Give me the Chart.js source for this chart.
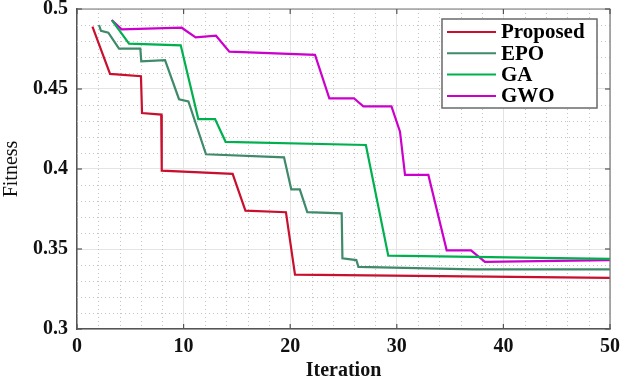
<!DOCTYPE html>
<html>
<head>
<meta charset="utf-8">
<script src="https://cdn.jsdelivr.net/npm/chart.js@4"></script>
<style>
  html, body { margin: 0; padding: 0; background: #fff; }
  canvas { display: block; }
</style>
</head>
<body>
<canvas id="fitness-chart" width="624" height="378"></canvas>
<script>
// valores (iteração, fitness)
const proposedX = [1.45, 3.1, 6.0, 6.1, 7.9, 7.95, 14.6, 15.8, 19.6, 20.45, 50];
const proposedY = [0.489, 0.4594, 0.458, 0.435, 0.434, 0.399, 0.397, 0.374, 0.373, 0.334, 0.332];

const epoX = [2.06, 2.25, 2.94, 3.94, 5.94, 6.03, 8.26, 9.57, 10.45, 12.1, 19.42, 20.1, 20.9, 21.6, 24.83, 24.9, 26.2, 26.4, 37.2, 50];
const epoY = [0.49, 0.4864, 0.4852, 0.4752, 0.4752, 0.4673, 0.468, 0.4436, 0.4423, 0.4092, 0.4073, 0.3873, 0.3873, 0.373, 0.3723, 0.3442, 0.3431, 0.3388, 0.3373, 0.3373];

const gaX = [3.3, 4.88, 9.73, 11.38, 12.95, 13.94, 27.1, 29.2, 50];
const gaY = [0.4927, 0.4783, 0.4773, 0.4312, 0.4312, 0.417, 0.415, 0.3458, 0.3438];

const gwoX = [3.25, 4.19, 9.82, 11.13, 13.04, 14.29, 22.33, 23.67, 25.98, 26.86, 29.5, 30.3, 30.77, 32.96, 34.68, 36.96, 38.27, 50];
const gwoY = [0.4931, 0.4873, 0.4883, 0.4823, 0.4833, 0.4733, 0.4713, 0.4442, 0.4442, 0.4392, 0.4392, 0.4233, 0.3963, 0.3963, 0.3492, 0.3492, 0.342, 0.3431];

const seriesNames = ["Proposed", "EPO", "GA", "GWO"];
const xTicks = [0, 10, 20, 30, 40, 50];
const yTicks = [0.3, 0.35, 0.4, 0.45, 0.5];

const serif = "'Liberation Serif', 'Times New Roman', serif";

const pares = (xs, ys) => xs.map((x, i) => ({ x, y: ys[i] }));

// grade menor pontilhada, moldura e legenda dentro do gráfico
const extras = {
    id: "extras",
    beforeDatasetsDraw(chart) {
        const { ctx, chartArea: a, scales } = chart;
        ctx.save();
        ctx.strokeStyle = "#c4c4c4";
        ctx.lineWidth = 1;
        ctx.setLineDash([1, 3]);
        for (let v = 2; v < 50; v += 2) {
            if (v % 10 === 0) continue;
            const px = Math.round(scales.x.getPixelForValue(v)) + 0.5;
            ctx.beginPath(); ctx.moveTo(px, a.top); ctx.lineTo(px, a.bottom); ctx.stroke();
        }
        for (let k = 31; k < 50; k++) {
            if (k % 5 === 0) continue;
            const py = Math.round(scales.y.getPixelForValue(k / 100)) + 0.5;
            ctx.beginPath(); ctx.moveTo(a.left, py); ctx.lineTo(a.right, py); ctx.stroke();
        }
        ctx.restore();
    },
    afterDraw(chart) {
        const { ctx, chartArea: a, scales } = chart;
        ctx.save();
        // moldura superior e direita
        ctx.strokeStyle = "#777";
        ctx.lineWidth = 1.2;
        ctx.beginPath();
        ctx.moveTo(a.left, a.top); ctx.lineTo(a.right, a.top); ctx.lineTo(a.right, a.bottom);
        ctx.stroke();
        // marcas internas
        ctx.strokeStyle = "#555";
        xTicks.forEach(v => {
            const px = scales.x.getPixelForValue(v);
            ctx.beginPath(); ctx.moveTo(px, a.top); ctx.lineTo(px, a.top + 5); ctx.stroke();
            ctx.beginPath(); ctx.moveTo(px, a.bottom); ctx.lineTo(px, a.bottom - 5); ctx.stroke();
        });
        yTicks.forEach(v => {
            const py = scales.y.getPixelForValue(v);
            ctx.beginPath(); ctx.moveTo(a.left, py); ctx.lineTo(a.left + 5, py); ctx.stroke();
            ctx.beginPath(); ctx.moveTo(a.right, py); ctx.lineTo(a.right - 5, py); ctx.stroke();
        });

        // legenda
        const bx = a.right - 168, by = a.top + 10, bw = 155, bh = 89;
        ctx.fillStyle = "#fff";
        ctx.fillRect(bx, by, bw, bh);
        ctx.strokeStyle = "#6a6a6a";
        ctx.lineWidth = 1.5;
        ctx.strokeRect(bx, by, bw, bh);
        ctx.font = `bold 21px ${serif}`;
        ctx.textBaseline = "middle";
        ctx.textAlign = "left";
        chart.data.datasets.forEach((ds, i) => {
            const y = by + 13 + i * 21.3;
            ctx.strokeStyle = ds.borderColor;
            ctx.lineWidth = 2;
            ctx.beginPath(); ctx.moveTo(bx + 5, y); ctx.lineTo(bx + 54, y); ctx.stroke();
            ctx.fillStyle = "#000";
            ctx.fillText(ds.label, bx + 59, y + 1);
        });
        ctx.restore();
    }
};

const cores = ["#c8102e", "#3f8a6a", "#00b04f", "#cc00cc"];
const dados = [pares(proposedX, proposedY), pares(epoX, epoY), pares(gaX, gaY), pares(gwoX, gwoY)];

new Chart(document.getElementById("fitness-chart").getContext("2d"), {
    type: "line",
    data: {
        datasets: seriesNames.map((nome, i) => ({
            label: nome,
            data: dados[i],
            borderColor: cores[i],
            backgroundColor: cores[i],
            borderWidth: 2.2,
            pointRadius: 0,
            tension: 0,
            fill: false
        }))
    },
    options: {
        responsive: false,
        animation: false,
        layout: { padding: { top: 9, right: 14, left: 0, bottom: 0 } },
        plugins: { legend: { display: false }, tooltip: { enabled: false } },
        scales: {
            x: {
                type: "linear",
                min: 0,
                max: 50,
                afterBuildTicks: s => { s.ticks = xTicks.map(v => ({ value: v })); },
                afterFit: s => { s.height = 49; s.paddingLeft = 0; s.paddingRight = 0; },
                ticks: {
                    padding: 6,
                    color: "#111",
                    font: { family: serif, size: 20, weight: "bold" },
                    maxRotation: 0
                },
                grid: { color: "#e4e4e4", lineWidth: 1, drawTicks: false },
                border: { color: "#555", width: 1.5 },
                title: {
                    display: true,
                    text: "Iteration",
                    color: "#111",
                    font: { family: serif, size: 20, weight: "bold" },
                    padding: { top: 0, bottom: -5 }
                }
            },
            y: {
                type: "linear",
                min: 0.3,
                max: 0.5,
                afterBuildTicks: s => { s.ticks = yTicks.map(v => ({ value: v })); },
                afterFit: s => { s.width = 77; s.paddingTop = 0; s.paddingBottom = 0; },
                ticks: {
                    padding: 9,
                    color: "#111",
                    font: { family: serif, size: 20, weight: "bold" },
                    callback: v => String(Number(v.toFixed(2)))
                },
                grid: { color: "#e4e4e4", lineWidth: 1, drawTicks: false },
                border: { color: "#555", width: 1.5 },
                title: {
                    display: true,
                    text: "Fitness",
                    color: "#111",
                    font: { family: serif, size: 20 },
                    padding: { top: 0, bottom: 0 }
                }
            }
        }
    },
    plugins: [extras]
});
</script>
</body>
</html>
